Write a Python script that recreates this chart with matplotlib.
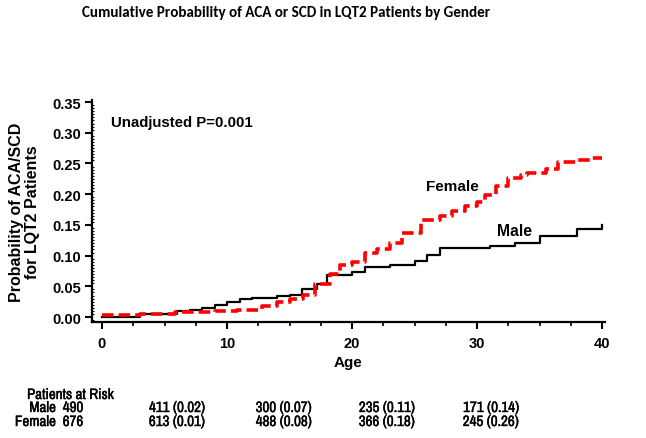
import matplotlib
matplotlib.use("Agg")
import matplotlib.pyplot as plt
from matplotlib.ticker import MultipleLocator
import matplotlib.patheffects as pe
import numpy as np

# ---- data ----
male_age = [0, 3, 6, 7, 8, 9, 10, 11, 12, 14, 15, 16, 17.2, 18, 20, 21, 23, 25, 26, 27, 31, 33, 35, 38, 40]
male_prob = [0.000, 0.005, 0.009, 0.011, 0.014, 0.019, 0.025, 0.029, 0.031, 0.034, 0.036, 0.045, 0.053,
             0.069, 0.074, 0.081, 0.085, 0.092, 0.101, 0.112, 0.116, 0.121, 0.132, 0.143, 0.149]
female_age = [0, 3, 5.8, 9, 10.8, 12.8, 14, 15, 16.1, 17, 18.2, 19, 20, 21, 22, 23, 24, 25.5, 27, 28,
              29, 30, 30.6, 31.5, 32.5, 33.5, 34, 35.5, 36.5, 38, 39, 40]
female_prob = [0.004, 0.005, 0.008, 0.010, 0.011, 0.018, 0.024, 0.029, 0.036, 0.054, 0.070, 0.084, 0.089,
               0.104, 0.110, 0.120, 0.136, 0.158, 0.165, 0.172, 0.180, 0.188, 0.199, 0.214, 0.226, 0.232,
               0.235, 0.241, 0.252, 0.255, 0.259, 0.259]

x_ticks = [0, 10, 20, 30, 40]
y_ticks = [0.00, 0.05, 0.10, 0.15, 0.20, 0.25, 0.30, 0.35]

risk_rows = ["Male", "Female"]
risk_male = ["490", "411 (0.02)", "300 (0.07)", "235 (0.11)", "171 (0.14)"]
risk_female = ["676", "613 (0.01)", "488 (0.08)", "366 (0.18)", "245 (0.26)"]

# ---- figure ----
W, H = 646, 439
fig = plt.figure(figsize=(W / 100, H / 100), dpi=100)
ax_l, ax_r, ax_t, ax_b = 92, 605, 101, 323
ax = fig.add_axes([ax_l / W, 1 - ax_b / H, (ax_r - ax_l) / W, (ax_b - ax_t) / H])

bold = dict(family=["Liberation Sans", "DejaVu Sans"], fontweight="bold")
narrow = dict(family=["Liberation Sans Narrow", "Archivo Narrow", "Liberation Sans"], fontweight="bold",
              path_effects=[pe.withStroke(linewidth=0.3, foreground="black")])

ax.step(male_age, male_prob, where="post", color="black", lw=1.6, zorder=3)
ax.step(female_age, female_prob, where="post", color="#ff0000", lw=2.6,
        linestyle=(0, (3.2, 1.4)), zorder=4)

ax.set_xlim(-0.8, 40.24)
ax.set_ylim(-0.0081, 0.3533)
ax.set_xticks(x_ticks)
ax.set_yticks(y_ticks)
ax.set_yticklabels([f"{v:.2f}" for v in y_ticks])
ax.xaxis.set_minor_locator(MultipleLocator(2.5))
ax.yaxis.set_minor_locator(MultipleLocator(0.005))

for s in ["top", "right"]:
    ax.spines[s].set_visible(False)
for s in ["left", "bottom"]:
    ax.spines[s].set_linewidth(1.6)

ax.tick_params(axis="both", which="major", direction="out", length=5, width=1.5, labelsize=10.5, pad=3)
ax.tick_params(axis="x", which="major", pad=5)
ax.tick_params(axis="x", which="minor", direction="out", length=3, width=1.2)
ax.tick_params(axis="y", which="minor", direction="in", length=1.5, width=0.8)
for lab in ax.get_xticklabels() + ax.get_yticklabels():
    lab.set_fontweight("bold")
    lab.set_family(["Liberation Sans", "DejaVu Sans"])

ax.set_xlabel("Age", fontsize=11, labelpad=4, **bold)
ax.set_ylabel("Probability of ACA/SCD\nfor LQT2 Patients", fontsize=11.5, labelpad=9, linespacing=1.05, **bold)

ax.text(0.7, 0.318, "Unadjusted P=0.001", fontsize=10.8, va="center", ha="left", **bold)
ax.text(25.9, 0.214, "Female", fontsize=11, va="center", ha="left", **bold)
ax.text(31.6, 0.141, "Male", fontsize=11.3, va="center", ha="left", **bold)

fig.text(286 / W, 1 - 13 / H, "Cumulative Probability of ACA or SCD in LQT2 Patients by Gender",
         ha="center", va="center", fontsize=10.9, family=["Carlito", "Lato", "DejaVu Sans"], fontweight="bold")

# risk table
fs_tab = 10.8
fig.text(27 / W, 1 - 396 / H, "Patients at Risk", ha="left", va="center", fontsize=fs_tab, **narrow)
right_edges = [83, 205, 312, 415, 519]
for row, vals, yy in [("Male", risk_male, 409), ("Female", risk_female, 423)]:
    for i, (xe, v) in enumerate(zip(right_edges, vals)):
        s = f"{row}  {v}" if i == 0 else v
        fig.text(xe / W, 1 - yy / H, s, ha="right", va="center", fontsize=fs_tab, **narrow)

fig.savefig("out.png", dpi=100)
